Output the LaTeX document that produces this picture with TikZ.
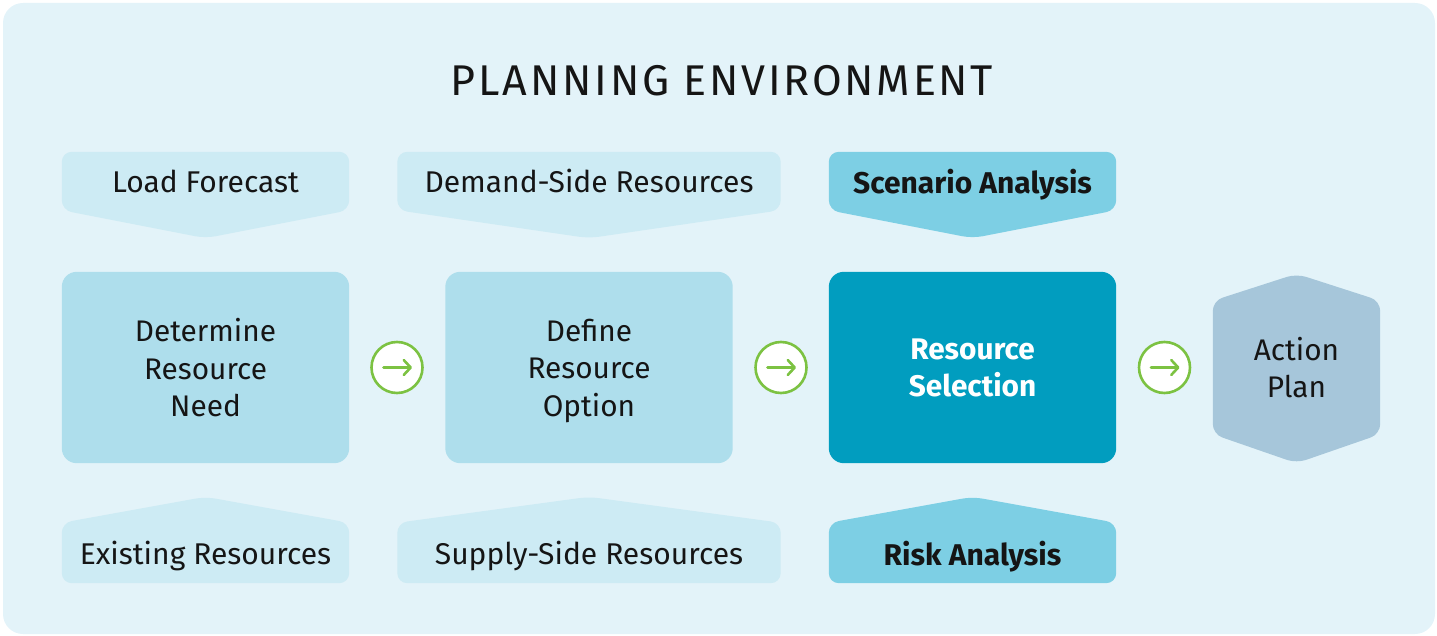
\documentclass[tikz,border=0pt]{standalone}
\usepackage{fontspec}
\setmainfont{Fira Sans}
\usetikzlibrary{calc,backgrounds,arrows.meta}
\definecolor{panel}{HTML}{E3F3F9}
\definecolor{lightp}{HTML}{CDEBF4}
\definecolor{midbox}{HTML}{AEDEEC}
\definecolor{darkp}{HTML}{7DCFE4}
\definecolor{selbox}{HTML}{019DBF}
\definecolor{actbox}{HTML}{A6C6DA}
\definecolor{arrowgreen}{HTML}{7CC242}
\definecolor{ink}{HTML}{151515}
\begin{document}
\begin{tikzpicture}[x=1pt,y=-1pt,
  lbl/.style={font=\fontsize{30}{36}\selectfont, text=ink, align=center, inner sep=0pt, shape=rectangle, text depth=0pt},
  boldlbl/.style={lbl, font=\fontsize{30}{36}\selectfont\bfseries},
  midlbl/.style={lbl, font=\fontsize{29.8}{37.5}\selectfont, text depth=0pt},
  circ/.style={circle, draw=arrowgreen, line width=2.6pt, fill=white, minimum size=51pt, inner sep=0pt},
  arr/.style={draw=arrowgreen, line width=2.6pt, line cap=round, -{Straight Barb[length=7pt,width=15pt,line cap=round,line join=round]}}
]
\useasboundingbox (0,0) rectangle (1437,636);

% title
\node[lbl, font=\fontsize{43}{50}\selectfont\addfontfeature{LetterSpace=6.5}] (title) at (722,80) {PLANNING ENVIRONMENT};

% top inputs
\node[lbl, minimum width=287pt, minimum height=58pt] (lf) at (205.5,181) {Load Forecast};
\node[lbl, minimum width=383pt, minimum height=58pt] (ds) at (589,181) {Demand-Side Resources};
\node[boldlbl, minimum width=287pt, minimum height=58pt] (sa) at (972.5,181) {Scenario Analysis};

% middle process boxes
\node[midlbl, minimum width=287pt, minimum height=191pt] (drn) at (205.5,367.5) {Determine\\Resource\\Need};
\node[midlbl, minimum width=287pt, minimum height=191pt] (dro) at (589,367.5) {Define\\Resource\\Option};
\node[midlbl, text=white, font=\fontsize{29.8}{37.5}\selectfont\bfseries, minimum width=287pt, minimum height=191pt] (rs) at (972.5,367.5) {Resource\\Selection};
\node[midlbl, minimum width=167pt, minimum height=133pt] (ap) at (1296.5,367.5) {Action\\Plan};

% bottom inputs
\node[lbl, minimum width=287pt, minimum height=60pt] (er) at (205.5,553) {Existing Resources};
\node[lbl, minimum width=383pt, minimum height=60pt] (ss) at (589,553) {Supply-Side Resources};
\node[boldlbl, minimum width=287pt, minimum height=60pt] (ra) at (972.5,553) {Risk Analysis};

% circled arrows
\node[circ] (c1) at (397,367.5) {};
\node[circ] (c2) at (781,367.5) {};
\node[circ] (c3) at (1164.5,367.5) {};
\foreach \c in {c1,c2,c3}{
  \coordinate (\c s) at ($(\c.center)+(-13.5,0)$);
  \coordinate (\c e) at ($(\c.center)+(15,0)$);
  \draw[arr] (\c s) -- (\c e);
}

\begin{scope}[on background layer]
  \fill[panel, rounded corners=20pt] (3,3) rectangle (1435,634);
  % top pentagons (pointing down)
  \foreach \n/\col in {lf/lightp, ds/lightp, sa/darkp}{
    \fill[\col, rounded corners=10pt] (\n.north west) -- (\n.north east) -- (\n.south east) -- ($(\n.south)+(0,28)$) -- (\n.south west) -- cycle;
  }
  % bottom pentagons (pointing up)
  \foreach \n/\col in {er/lightp, ss/lightp, ra/darkp}{
    \fill[\col, rounded corners=10pt] (\n.south west) -- (\n.north west) -- ($(\n.north)+(0,-26)$) -- (\n.north east) -- (\n.south east) -- cycle;
  }
  % middle boxes
  \fill[midbox, rounded corners=15pt] (drn.north west) rectangle (drn.south east);
  \fill[midbox, rounded corners=15pt] (dro.north west) rectangle (dro.south east);
  \fill[selbox, rounded corners=15pt] (rs.north west) rectangle (rs.south east);
  % action plan hexagon
  \fill[actbox, rounded corners=10pt] (ap.north west) -- ($(ap.north)+(0,-27)$) -- (ap.north east) -- (ap.south east) -- ($(ap.south)+(0,29)$) -- (ap.south west) -- cycle;
\end{scope}
\end{tikzpicture}
\end{document}
